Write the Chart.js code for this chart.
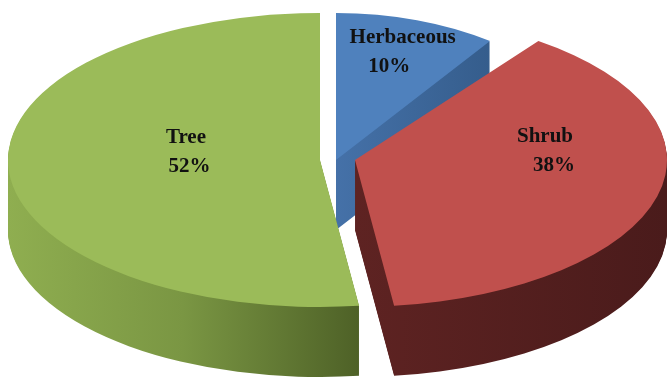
<!DOCTYPE html>
<html><head><meta charset="utf-8">
<script src="https://cdn.jsdelivr.net/npm/chart.js@4"></script>
<style>html,body{margin:0;padding:0;background:#fff;overflow:hidden}canvas{display:block}</style>
</head><body>
<canvas id="c" width="668" height="377"></canvas>
<script>
// ---- data ----
const categories = ['Herbaceous', 'Shrub', 'Tree'];
const shares = [10, 38, 52];

// ---- styles ----
const topColors = ['#4f81bd', '#c0504d', '#9bbb59'];
const sideStops = [
  [[0, '#4571a8'], [1, '#355d8c']],
  [[0, '#5e2322'], [1, '#4a1b1b']],
  [[0, '#8fae50'], [0.5, '#7a9643'], [1, '#4e6127']]
];
const view = { cx: 336, cy: 160, rx: 312, ry: 147, depth: 70 };
const explode = [[0, 0], [19, 0], [-16, 0]];
const sliceScale = [0.84, 1, 1];
const labelStyle = [
  { f: 0.78, dx: 3, dy: 0, l1: 0.5, l2: -13 },
  { f: 0.632, dx: 0, dy: -34, l1: -1, l2: 8 },
  { f: 0.424, dx: 0, dy: -13, l1: -2, l2: 1.5 }
];
const font = 'bold 21px "Liberation Serif", "Times New Roman", serif';
const lineGap = 29;

function rxOf(i) { return view.rx * sliceScale[i]; }

function place(ctx, el, i, dy) {
  const e = explode[i];
  ctx.translate(view.cx + e[0], view.cy + e[1] + dy);
  ctx.scale(rxOf(i) / el.outerRadius, view.ry / el.outerRadius);
  ctx.translate(-el.x, -el.y);
}

function sideGradient(ctx, el, i) {
  const e = explode[i];
  const ax = view.cx + e[0];
  let minX = ax, maxX = ax;
  for (let t = 0; t <= 60; t++) {
    const a = el.startAngle + (el.endAngle - el.startAngle) * t / 60;
    const x = ax + Math.cos(a) * rxOf(i);
    minX = Math.min(minX, x); maxX = Math.max(maxX, x);
  }
  const toUser = sx => (sx - ax) * (el.outerRadius / rxOf(i)) + el.x;
  const g = ctx.createLinearGradient(toUser(minX), 0, toUser(maxX), 0);
  sideStops[i].forEach(s => g.addColorStop(s[0], s[1]));
  return g;
}

const pie3d = {
  id: 'pie3d',
  beforeDatasetsDraw(chart) {
    const ctx = chart.ctx;
    const arcs = chart.getDatasetMeta(0).data;
    const order = [0, 2, 1];
    // extruded sides
    order.forEach(i => {
      const el = arcs[i];
      const orig = el.options;
      for (let d = view.depth; d >= 1; d--) {
        ctx.save();
        place(ctx, el, i, d);
        el.options = Object.assign({}, orig, { backgroundColor: sideGradient(ctx, el, i), borderWidth: 0 });
        el.draw(ctx);
        ctx.restore();
      }
      el.options = orig;
    });
    // top faces
    order.forEach(i => {
      const el = arcs[i];
      ctx.save();
      place(ctx, el, i, 0);
      el.draw(ctx);
      ctx.restore();
    });
    // labels
    const total = shares.reduce((a, b) => a + b, 0);
    ctx.save();
    ctx.font = font;
    ctx.fillStyle = '#111';
    ctx.textAlign = 'center';
    ctx.textBaseline = 'alphabetic';
    arcs.forEach((el, i) => {
      const L = labelStyle[i], e = explode[i];
      const mid = (el.startAngle + el.endAngle) / 2;
      const x = view.cx + e[0] + Math.cos(mid) * rxOf(i) * L.f + L.dx;
      const y = view.cy + e[1] + Math.sin(mid) * view.ry * L.f + L.dy;
      ctx.fillText(categories[i], x + L.l1, y - lineGap / 2 + 7);
      ctx.fillText(Math.round(shares[i] / total * 100) + '%', x + L.l2, y + lineGap / 2 + 7);
    });
    ctx.restore();
    return false;
  }
};

new Chart(document.getElementById('c'), {
  type: 'pie',
  data: {
    labels: categories,
    datasets: [{ data: shares, backgroundColor: topColors, borderWidth: 0, offset: 0, hoverOffset: 0 }]
  },
  options: {
    responsive: false,
    animation: false,
    events: [],
    radius: view.rx,
    plugins: { legend: { display: false }, tooltip: { enabled: false } }
  },
  plugins: [pie3d]
});
</script>
</body></html>
